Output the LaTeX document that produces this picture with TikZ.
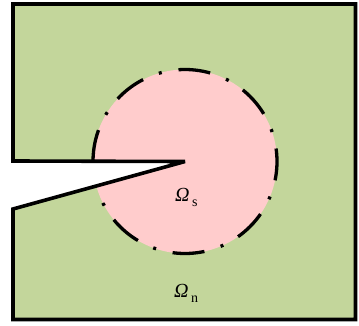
\documentclass[tikz,border=0pt]{standalone}
\usepackage{fontspec}
\setmainfont{Liberation Serif}
\definecolor{regiongreen}{HTML}{C3D69B}
\definecolor{regionpink}{HTML}{FFCCCC}
\tikzset{
  outline/.style={draw=black, line width=3.6pt, line join=miter, miter limit=4},
  interface/.style={draw=black, line width=3.3pt, line cap=butt,
    dash pattern=on 32pt off 17pt on 3pt off 17pt},
  lbl/.style={inner sep=0pt, anchor=base west, font=\fontsize{20}{20}\selectfont\itshape}
}
\newcommand{\subtxt}[1]{\hspace{2.5pt}\raisebox{-5.5pt}{\upshape\fontsize{14}{14}\selectfont #1}}
\begin{document}
\begin{tikzpicture}[x=1pt,y=1pt]
\useasboundingbox (0,0) rectangle (359,325);
% plate region
\fill[regiongreen] (185,163.5) -- (13,164) -- (13,321) -- (355.5,321) -- (355.5,5.5) -- (13,5.5) -- (13,116) -- cycle;
% inner disc region
\fill[regionpink] (185,163.5) -- ++(180:92) arc[start angle=180, end angle=-164.56, radius=92] -- cycle;
% dash-dot interface
\draw[interface] (185,163.5) ++(180:92) arc[start angle=180, end angle=-164.56, radius=92];
% outer boundary with crack
\draw[outline] (185,163.5) -- (13,164) -- (13,321) -- (355.5,321) -- (355.5,5.5) -- (13,5.5) -- (13,116) -- cycle;
% labels
\node[lbl] (ls) at (175,124) {Ω\subtxt{s}};
\node[lbl] (ln) at (174,28) {Ω\subtxt{n}};
\end{tikzpicture}
\end{document}
